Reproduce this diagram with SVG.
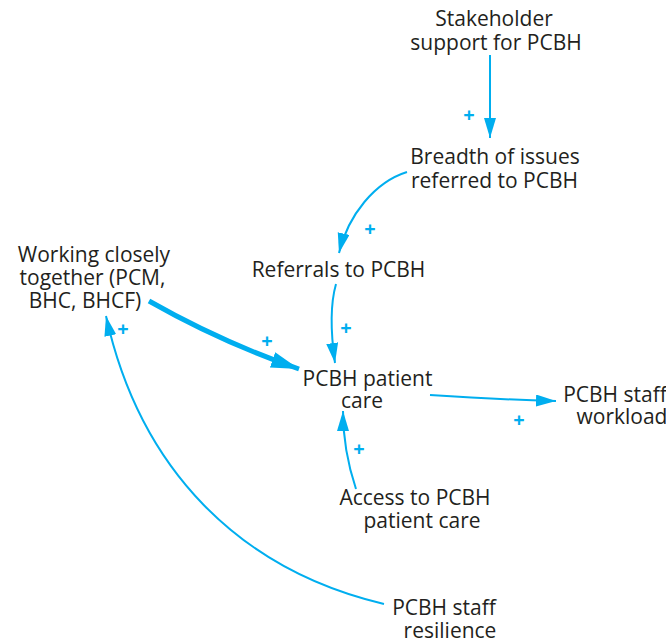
<svg xmlns="http://www.w3.org/2000/svg" width="666" height="644" viewBox="0 0 666 644">
  <style>
    .lbl { font-family: "Open Sans", "Noto Sans", "DejaVu Sans", sans-serif; font-size: 21px; fill: #231f20; text-anchor: middle; }
    .pl { font-family: "Open Sans", "Noto Sans", sans-serif; font-size: 20px; font-weight: bold; fill: #00aeef; text-anchor: middle; }
    .ln { fill: none; stroke: #00aeef; stroke-width: 2; }
    .thin { marker-end: url(#ah); }
    .thick { stroke-width: 5; marker-end: url(#ahb); }
  </style>
  <defs>
    <marker id="ah" markerUnits="userSpaceOnUse" markerWidth="22" markerHeight="14" refX="20" refY="6" orient="auto" viewBox="0 0 22 14">
      <path d="M0,0 L20,6 L0,12 Z" fill="#00aeef"/>
    </marker>
    <marker id="ahb" markerUnits="userSpaceOnUse" markerWidth="30" markerHeight="18" refX="28" refY="8" orient="auto" viewBox="0 0 30 18">
      <path d="M0,0 L28,8 L0,16 Z" fill="#00aeef"/>
    </marker>
  </defs>

  <g id="connectors">
    <path class="ln thin" d="M490,55 L490,138"/>
    <path class="ln thin" d="M407,172 C375,182 348,215 339,253"/>
    <path class="ln thin" d="M336,284 C330,305 331,335 335,363"/>
    <path class="ln thick" d="M149,301 C200,330 250,352 299,369"/>
    <path class="ln thin" d="M430,395 C475,398 515,400 556,401"/>
    <path class="ln thin" d="M356,489 C348,465 343,440 343,411"/>
    <path class="ln thin" d="M384,604 C240,570 140,470 106,316"/>
    <g id="polarities">
      <text class="pl" x="469" y="122">+</text>
      <text class="pl" x="370" y="236">+</text>
      <text class="pl" x="346" y="335">+</text>
      <text class="pl" x="267" y="348">+</text>
      <text class="pl" x="519" y="427">+</text>
      <text class="pl" x="359" y="456">+</text>
      <text class="pl" x="123" y="336">+</text>
    </g>
  </g>

  <g id="stakeholder">
    <text class="lbl" x="494" y="26">Stakeholder</text>
    <text class="lbl" x="496" y="50">support for PCBH</text>
  </g>
  <g id="breadth">
    <text class="lbl" x="495" y="164">Breadth of issues</text>
    <text class="lbl" x="494.5" y="188">referred to PCBH</text>
  </g>
  <g id="referrals">
    <text class="lbl" x="338.5" y="277">Referrals to PCBH</text>
  </g>
  <g id="working">
    <text class="lbl" x="94" y="262">Working closely</text>
    <text class="lbl" x="92.5" y="285">together (PCM,</text>
    <text class="lbl" x="85" y="308">BHC, BHCF)</text>
  </g>
  <g id="patient-care">
    <text class="lbl" x="367.5" y="386">PCBH patient</text>
    <text class="lbl" x="362" y="408">care</text>
  </g>
  <g id="workload">
    <text class="lbl" x="615" y="402">PCBH staff</text>
    <text class="lbl" x="622" y="424">workload</text>
  </g>
  <g id="access">
    <text class="lbl" x="415" y="505">Access to PCBH</text>
    <text class="lbl" x="422" y="528">patient care</text>
  </g>
  <g id="resilience">
    <text class="lbl" x="444" y="615">PCBH staff</text>
    <text class="lbl" x="450" y="638">resilience</text>
  </g>
</svg>
